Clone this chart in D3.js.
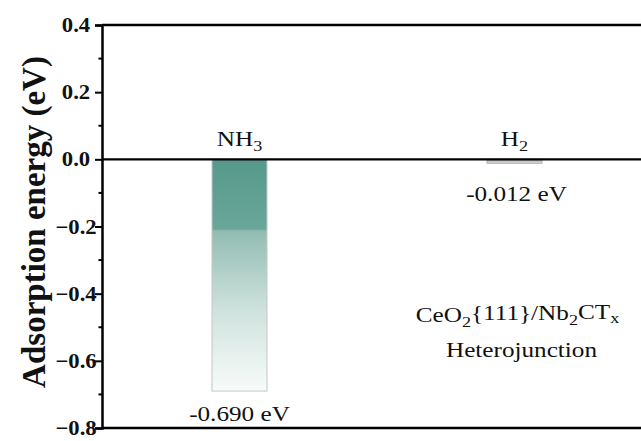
<!DOCTYPE html>
<meta charset="utf-8">
<style>
  body { margin: 0; background: #fff; }
  text { font-family: "Liberation Serif", "Times New Roman", serif; fill: #111; }
</style>
<body>
  <script src="https://d3js.org/d3.v7.min.js"></script>
  <script>
    var width = 641,
        height = 441;

    // data
    var categories = ["NH3", "H2"];
    var energies = [-0.690, -0.012];
    var valueLabels = ["-0.690 eV", "-0.012 eV"];
    var yTicks = [0.4, 0.2, 0.0, -0.2, -0.4, -0.6, -0.8];
    var yMinorTicks = [0.3, 0.1, -0.1, -0.3, -0.5, -0.7];

    var margin = {left: 102, top: 25, bottom: 13};
    var plotRight = 652; // right frame falls outside the crop

    var svg = d3.select("body").append("svg")
        .attr("width", width)
        .attr("height", height);

    var defs = svg.append("defs");
    var gNH3 = defs.append("linearGradient").attr("id", "gradNH3")
        .attr("x1", 0).attr("y1", 0).attr("x2", 0).attr("y2", 1);
    [[0, "#559a8b"], [0.3, "#69a699"], [0.31, "#92bcb2"], [0.65, "#cfe2dd"], [1, "#f8fbfa"]]
      .forEach(function(s) { gNH3.append("stop").attr("offset", s[0]).attr("stop-color", s[1]); });
    var gH2 = defs.append("linearGradient").attr("id", "gradH2")
        .attr("x1", 0).attr("y1", 0).attr("x2", 0).attr("y2", 1);
    [[0, "#a4a4a4"], [1, "#e0e0e0"]]
      .forEach(function(s) { gH2.append("stop").attr("offset", s[0]).attr("stop-color", s[1]); });
    var fills = ["url(#gradNH3)", "url(#gradH2)"];
    var strokes = ["#c4c8c6", "#b4b4b4"];

    var x = d3.scaleBand()
        .domain(categories)
        .range([margin.left, plotRight])
        .paddingInner(0.8)
        .paddingOuter(0.4);

    var y = d3.scaleLinear()
        .domain([-0.8, 0.4])
        .range([height - margin.bottom, margin.top]);

    // text helper: the figure is a bit stretched sideways
    function label(g, px, py, sx) {
      return g.append("g")
        .attr("transform", "translate(" + px + "," + py + ") scale(" + sx + ",1)")
        .append("text")
        .attr("text-anchor", "middle");
    }
    function sub(t, main, s) {
      t.append("tspan").text(main);
      t.append("tspan").attr("font-size", "0.72em").attr("dy", "0.3em").text(s);
      return t;
    }

    // bars
    svg.selectAll("rect.bar")
      .data(energies)
      .enter().append("rect")
        .attr("class", "bar")
        .attr("x", function(d, i) { return x(categories[i]); })
        .attr("y", y(0))
        .attr("width", x.bandwidth())
        .attr("height", function(d) { return y(d) - y(0); })
        .attr("fill", function(d, i) { return fills[i]; })
        .attr("stroke", function(d, i) { return strokes[i]; })
        .attr("stroke-width", 1);

    // frame lines
    [0.4, -0.8].forEach(function(v) {
      svg.append("line")
        .attr("x1", margin.left).attr("x2", plotRight)
        .attr("y1", y(v)).attr("y2", y(v))
        .attr("stroke", "#000").attr("stroke-width", 2.5);
    });
    svg.append("line")
      .attr("x1", margin.left).attr("x2", plotRight)
      .attr("y1", y(0)).attr("y2", y(0))
      .attr("stroke", "#000").attr("stroke-width", 2.2);

    // y axis
    var yAxis = svg.append("g")
      .attr("transform", "translate(" + margin.left + ",0)")
      .call(d3.axisLeft(y).tickValues(yTicks).tickSize(7).tickFormat(d3.format(".1f")));
    yAxis.select(".domain").attr("stroke-width", 2.5);
    yAxis.selectAll(".tick line").attr("stroke-width", 2);
    yAxis.selectAll(".tick text").remove();

    svg.append("g").selectAll("line")
      .data(yMinorTicks)
      .enter().append("line")
        .attr("x1", margin.left - 3.5).attr("x2", margin.left)
        .attr("y1", function(d) { return y(d); })
        .attr("y2", function(d) { return y(d); })
        .attr("stroke", "#000").attr("stroke-width", 2);

    yTicks.forEach(function(t) {
      label(svg, margin.left - 26, y(t) + 7, 1.08)
        .attr("font-size", "21px")
        .attr("font-weight", "bold")
        .text(d3.format(".1f")(t));
    });

    // y label
    svg.append("text")
      .attr("transform", "translate(45," + 222 + ") rotate(-90)")
      .attr("text-anchor", "middle")
      .attr("font-size", "33px")
      .attr("font-weight", "bold")
      .text("Adsorption energy (eV)");

    // category names above the zero line
    var subs = ["3", "2"];
    var mains = ["NH", "H"];
    categories.forEach(function(c, i) {
      var t = label(svg, x(c) + x.bandwidth() / 2, y(0) - 13, 1.2).attr("font-size", "21px");
      sub(t, mains[i], subs[i]);
    });

    // value annotations
    var labelGap = [30, 38];
    valueLabels.forEach(function(v, i) {
      label(svg, x(categories[i]) + x.bandwidth() / 2 + (i ? 2 : 0), y(energies[i]) + labelGap[i], 1.2)
        .attr("font-size", "21px")
        .text(v);
    });

    // material note
    var cx = x("H2") + x.bandwidth() / 2 + 3;
    var note = label(svg, cx, y(-0.485), 1.2).attr("font-size", "21px");
    note.append("tspan").text("CeO");
    note.append("tspan").attr("font-size", "0.72em").attr("dy", "0.3em").text("2");
    note.append("tspan").attr("dy", "-0.3em").text("{111}/Nb");
    note.append("tspan").attr("font-size", "0.72em").attr("dy", "0.3em").text("2");
    note.append("tspan").attr("dy", "-0.3em").text("CT");
    note.append("tspan").attr("font-size", "0.72em").attr("dy", "0.3em").text("x");
    label(svg, cx + 4, y(-0.59), 1.2).attr("font-size", "21px").text("Heterojunction");
  </script>
</body>
</html>
